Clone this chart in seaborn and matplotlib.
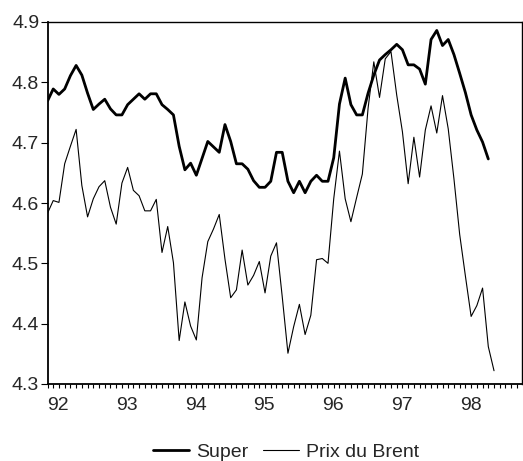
import numpy as np
import pandas as pd
import matplotlib
matplotlib.use("Agg")
import matplotlib.pyplot as plt
import seaborn as sns
from matplotlib.ticker import FixedLocator, MultipleLocator, FuncFormatter
from matplotlib.lines import Line2D

super_vals = [4.769, 4.789, 4.780, 4.789, 4.811, 4.828, 4.812, 4.782, 4.755, 4.764,
              4.772, 4.756, 4.746, 4.746, 4.763, 4.772, 4.781, 4.772, 4.781, 4.781,
              4.763, 4.755, 4.746, 4.694, 4.655, 4.666, 4.646, 4.674, 4.702, 4.693,
              4.684, 4.730, 4.702, 4.665, 4.665, 4.656, 4.637, 4.626, 4.626, 4.636,
              4.684, 4.684, 4.636, 4.617, 4.636, 4.617, 4.636, 4.646, 4.636, 4.636,
              4.675, 4.764, 4.807, 4.763, 4.746, 4.746, 4.782, 4.812, 4.837, 4.846,
              4.854, 4.863, 4.854, 4.829, 4.829, 4.822, 4.797, 4.871, 4.886, 4.861,
              4.871, 4.846, 4.815, 4.783, 4.746, 4.721, 4.701, 4.673]

brent_vals = [4.583, 4.604, 4.601, 4.665, 4.694, 4.722, 4.629, 4.577, 4.607, 4.627,
              4.637, 4.593, 4.565, 4.633, 4.659, 4.621, 4.612, 4.587, 4.587, 4.606,
              4.518, 4.561, 4.501, 4.372, 4.436, 4.396, 4.373, 4.476, 4.536, 4.557,
              4.581, 4.507, 4.443, 4.456, 4.522, 4.464, 4.480, 4.503, 4.451, 4.512,
              4.534, 4.445, 4.351, 4.395, 4.432, 4.382, 4.414, 4.506, 4.508, 4.500,
              4.607, 4.686, 4.607, 4.569, 4.609, 4.648, 4.757, 4.834, 4.775, 4.839,
              4.851, 4.779, 4.718, 4.632, 4.709, 4.643, 4.721, 4.761, 4.716, 4.778,
              4.723, 4.640, 4.548, 4.479, 4.412, 4.430, 4.459, 4.362, 4.322]

year_ticks = [1992, 1993, 1994, 1995, 1996, 1997, 1998]
year_labels = ["92", "93", "94", "95", "96", "97", "98"]
y_ticks = [4.3, 4.4, 4.5, 4.6, 4.7, 4.8, 4.9]
series_names = ["Super", "Prix du Brent"]

t_super = 1992 + np.arange(len(super_vals)) / 12.0
t_brent = 1992 + np.arange(len(brent_vals)) / 12.0
df = pd.concat([
    pd.DataFrame({"t": t_super, "v": super_vals, "s": series_names[0]}),
    pd.DataFrame({"t": t_brent, "v": brent_vals, "s": series_names[1]}),
])

sns.set_style("white")
plt.rcParams["font.family"] = ["Liberation Sans", "DejaVu Sans"]

fs = 14
fig = plt.figure(figsize=(5.23, 4.61), dpi=100)
ax = fig.add_axes([47.5 / 523, 77 / 461, 474 / 523, 362 / 461])

sns.lineplot(data=df, x="t", y="v", hue="s", size="s",
             sizes={series_names[0]: 2.0, series_names[1]: 0.8},
             palette={series_names[0]: "black", series_names[1]: "black"},
             ax=ax, legend=False, estimator=None)

ax.set_xlim(1992, 1992 + 82.8 / 12)
ax.set_ylim(4.3, 4.9)
ax.set_xlabel("")
ax.set_ylabel("")

ax.xaxis.set_major_locator(FixedLocator(year_ticks))
ax.xaxis.set_major_formatter(FuncFormatter(lambda v, p: year_labels[year_ticks.index(int(round(v)))] if int(round(v)) in year_ticks else ""))
ax.xaxis.set_minor_locator(MultipleLocator(1 / 12))
ax.set_yticks(y_ticks)
ax.set_yticklabels([f"{v:.1f}" for v in y_ticks])

ax.tick_params(axis="x", which="both", direction="out", length=3, width=0.8,
               color="black", bottom=True, pad=6, labelsize=fs)
ax.tick_params(axis="y", which="major", direction="out", length=5, width=0.8,
               color="black", left=True, pad=1, labelsize=fs)
for lab in ax.get_xticklabels():
    lab.set_horizontalalignment("left")

for sp in ax.spines.values():
    sp.set_visible(True)
    sp.set_color("black")
    sp.set_linewidth(1.0)
ax.spines["bottom"].set_linewidth(1.3)
ax.spines["left"].set_linewidth(1.3)

handles = [Line2D([], [], color="black", lw=2.0), Line2D([], [], color="black", lw=0.8)]
fig.legend(handles, series_names, loc="center", bbox_to_anchor=(286 / 523, 9 / 461),
           ncol=2, frameon=False, fontsize=fs, handlelength=1.85,
           handletextpad=0.36, columnspacing=0.72, borderpad=0, borderaxespad=0)

fig.savefig("out.png", dpi=100, facecolor="white")
